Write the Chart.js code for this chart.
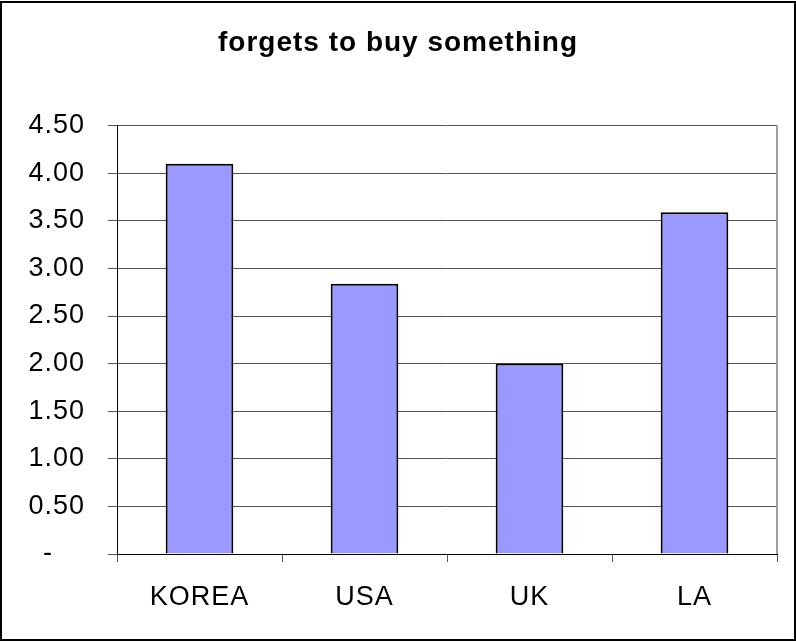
<!DOCTYPE html>
<html>
<head>
<meta charset="utf-8">
<script src="https://cdn.jsdelivr.net/npm/chart.js@4"></script>
<style>
  html, body { margin: 0; padding: 0; background: #fff; }
  #wrap { width: 796px; height: 642px; }
</style>
</head>
<body>
<div id="wrap"><canvas id="chart1" width="796" height="642"></canvas></div>
<script>
const regions = ['KOREA', 'USA', 'UK', 'LA'];
const scores = [4.10, 2.84, 2.00, 3.59];
const titleText = 'forgets to buy something';

// frame round the whole chart plus the grey right edge of the plot area
const framePlugin = {
  id: 'frame',
  beforeDraw(chart) {
    chart.ctx.letterSpacing = '1px'; // slightly looser text
  },
  afterDraw(chart) {
    const c = chart.ctx;
    const a = chart.chartArea;
    c.save();
    c.strokeStyle = '#a0a0a0';
    c.lineWidth = 2;
    c.beginPath();
    c.moveTo(a.right, a.top);
    c.lineTo(a.right, a.bottom);
    c.stroke();
    c.strokeStyle = '#000';
    c.lineWidth = 2;
    c.strokeRect(1, 2, 794, 638);
    c.restore();
    c.letterSpacing = '0px';
  }
};

const ctx1 = document.getElementById('chart1').getContext('2d');

new Chart(ctx1, {
  type: 'bar',
  data: {
    labels: regions,
    datasets: [{
      data: scores,
      backgroundColor: '#9999ff',
      borderColor: '#000',
      borderWidth: 2,
      barPercentage: 0.41,
      categoryPercentage: 1
    }]
  },
  options: {
    responsive: false,
    animation: false,
    layout: { padding: { left: 19, right: 19, top: 0, bottom: 0 } },
    plugins: {
      legend: { display: false },
      tooltip: { enabled: false },
      title: {
        display: true,
        text: titleText,
        color: '#000',
        font: { family: 'Liberation Sans, Arial, sans-serif', size: 28, weight: 'bold' },
        padding: { top: 26, bottom: 66 }
      }
    },
    scales: {
      x: {
        offset: true,
        afterFit(scale) { scale.height = 88; },
        grid: {
          offset: true,
          drawOnChartArea: false,
          tickLength: 8,
          color: '#555'
        },
        border: { color: '#000', width: 1 },
        ticks: {
          color: '#000',
          padding: 19,
          font: { family: 'Liberation Sans, Arial, sans-serif', size: 27 }
        }
      },
      y: {
        min: 0,
        max: 4.5,
        afterFit(scale) { scale.width = 98; },
        grid: { color: '#555', tickLength: 9 },
        border: { color: '#000', width: 1 },
        ticks: {
          stepSize: 0.5,
          color: '#000',
          padding: 23,
          font: { family: 'Liberation Sans, Arial, sans-serif', size: 27 },
          callback: v => v === 0 ? '-\u2007\u2007' : v.toFixed(2)
        }
      }
    }
  },
  plugins: [framePlugin]
});
</script>
</body>
</html>
